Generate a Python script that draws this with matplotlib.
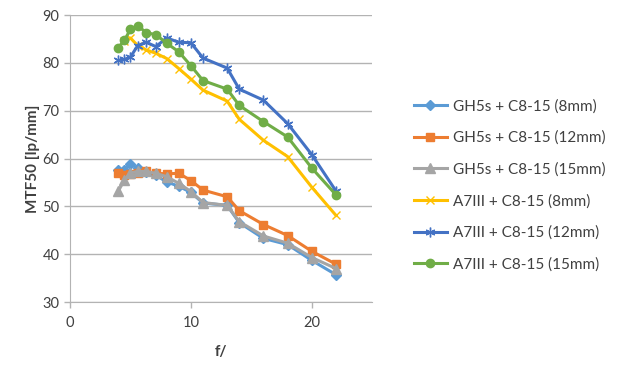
import matplotlib.pyplot as plt

plt.rcParams['font.family'] = ['Lato', 'DejaVu Sans']

# f-stops (x axis)
f_all = [4, 4.5, 5, 5.6, 6.3, 7.1, 8, 9, 10, 11, 13, 14, 16, 18, 20, 22]
f_yel = [4.5, 5, 5.6, 6.3, 7.1, 8, 9, 10, 11, 13, 14, 16, 18, 20, 22]

# MTF50 values [lp/mm]
gh5_8 = [57.5, 57.6, 58.8, 58.0, 57.2, 56.5, 55.1, 54.2, 52.9, 50.7, 50.2, 46.6, 43.3, 42.0, 38.7, 35.7]
gh5_12 = [56.9, 56.6, 56.8, 57.0, 57.3, 56.9, 56.8, 56.9, 55.4, 53.4, 52.0, 49.1, 46.2, 43.9, 40.6, 37.9]
gh5_15 = [53.2, 55.5, 57.0, 57.3, 57.3, 56.9, 56.2, 54.8, 53.1, 50.8, 50.2, 46.8, 43.8, 42.3, 39.3, 37.0]
a7_8 = [84.6, 85.2, 83.6, 82.7, 82.0, 80.9, 78.8, 76.6, 74.3, 72.0, 68.2, 63.8, 60.4, 54.0, 48.1]
a7_12 = [80.5, 80.7, 81.2, 83.6, 84.3, 83.4, 85.2, 84.3, 84.2, 81.0, 78.9, 74.5, 72.2, 67.3, 60.8, 53.2]
a7_15 = [83.2, 84.7, 87.0, 87.8, 86.3, 85.9, 84.1, 82.3, 79.4, 76.3, 74.5, 71.1, 67.7, 64.5, 58.0, 52.4]

labels = ["GH5s + C8-15 (8mm)", "GH5s + C8-15 (12mm)", "GH5s + C8-15 (15mm)",
          "A7III + C8-15 (8mm)", "A7III + C8-15 (12mm)", "A7III + C8-15 (15mm)"]

fig = plt.figure(figsize=(6.22, 3.65), dpi=100)
ax = fig.add_axes([0.1125, 0.1726, 0.486, 0.7863])

ax.plot(f_all, gh5_8, color='#5B9BD5', marker='D', ms=5, lw=2.2, label=labels[0])
ax.plot(f_all, gh5_12, color='#ED7D31', marker='s', ms=6, lw=2.2, label=labels[1])
ax.plot(f_all, gh5_15, color='#A5A5A5', marker='^', ms=6.5, lw=2.2, label=labels[2])
ax.plot(f_yel, a7_8, color='#FFC000', marker='x', ms=6, mew=1, lw=2.2, label=labels[3])
ax.plot(f_all, a7_12, color='#4472C4', marker=(6, 2, 0), ms=7, mew=1, lw=2.2, label=labels[4])
ax.plot(f_all, a7_15, color='#70AD47', marker='o', ms=6, lw=2.2, label=labels[5])

ax.set_xlim(0, 25)
ax.set_ylim(30, 90)
ax.set_xticks([0, 10, 20])
ax.set_yticks(range(30, 91, 10))
ax.yaxis.grid(True, color='#b3b3b3', lw=1)
ax.set_axisbelow(True)
for s in ['top', 'right']:
    ax.spines[s].set_visible(False)
for s in ['left', 'bottom']:
    ax.spines[s].set_color('#b3b3b3')
ax.tick_params(colors='#b3b3b3', labelcolor='#404040', labelsize=10.5, length=4, width=1)
ax.tick_params(axis='x', pad=6)

ax.set_xlabel('f/', fontsize=11, fontweight='bold', color='#404040', labelpad=11)
ax.set_ylabel('MTF50 [lp/mm]', fontsize=11, fontweight='bold', color='#404040', labelpad=2)

leg = ax.legend(loc='upper left', bbox_to_anchor=(0.655, 0.745), bbox_transform=fig.transFigure,
                frameon=False, fontsize=11, handlelength=2.2, labelspacing=1.13,
                handletextpad=0.4, borderaxespad=0)
for t in leg.get_texts():
    t.set_color('#404040')

fig.savefig('out.png', dpi=100)
